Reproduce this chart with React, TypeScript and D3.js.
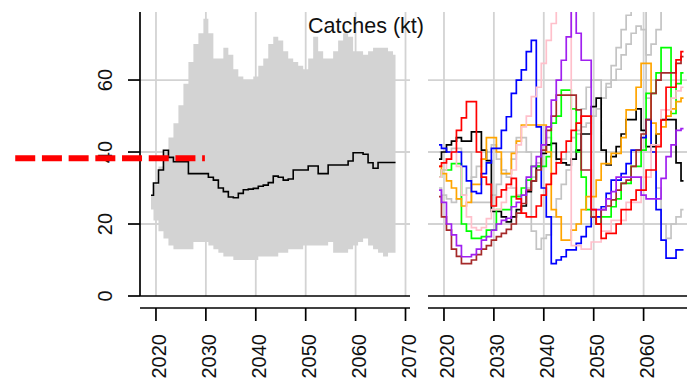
import * as React from 'react';
import {useEffect, useRef} from 'react';
import * as d3 from 'd3';

const years = d3.range(2019, 2069);
const xTicks = [2020, 2030, 2040, 2050, 2060, 2070];
const yTicks = [0, 20, 40, 60];
const gridY = [20, 40, 60];

// quantile band + median (left panel)
const catchUpper = [28, 31, 36, 40, 44, 48, 53, 59, 65, 70, 73, 77, 73, 66, 66, 69, 67, 63, 61, 60,
  60, 61, 64, 66, 70, 72, 71, 68, 66, 65, 64, 63, 66, 72, 68, 66, 66, 68, 71, 73,
  72, 68, 68, 67, 68, 69, 69, 69, 68, 67];
const catchLower = [24, 21, 18, 16, 14, 13, 13, 13, 13, 15, 15, 15, 14, 13, 12, 11, 11, 10, 10, 10,
  10, 10, 11, 11, 11, 11, 12, 12, 13, 13, 13, 14, 14, 14, 14, 14, 15, 12, 12, 12,
  13, 14, 15, 16, 14, 13, 12, 11, 12, 12];
const catchMedian = [28, 31.4, 35, 40.5, 38.5, 37.3, 37.3, 37.3, 34, 34, 34, 34, 33, 32.2, 30, 29, 27.5, 27.3, 28.5, 29.5,
  29.7, 29.9, 30.5, 30.8, 31.5, 33.3, 33, 32.2, 32.5, 35, 35, 35, 36.1, 36.1, 34, 34, 36.4, 36.4, 36.4, 36.4,
  37.5, 39.8, 39.8, 39.4, 37, 35.5, 37.1, 37.1, 37.1, 37.1];

// individual iterations (right panel)
const iterGrey1 = [40, 40, 40, 41, 41, 40, 40, 26, 26, 26, 26, 28, 31, 34, 34, 38, 44, 44, 40, 18,
  13, 16, 17, 22, 27, 31, 35, 40, 45, 52, 58, 60, 60, 55, 59, 64, 69, 74, 78, 82,
  83, 80, 55, 40, 30, 20, 16, 20, 22, 24];
const iterGrey2 = [30, 28, 27, 26, 27, 28, 30, 33, 36, 38, 40, 42, 38, 35, 33, 30, 28, 28, 30, 33,
  37, 42, 44, 40, 37, 38, 40, 44, 46, 47, 48, 50, 52, 55, 58, 60, 63, 67, 70, 73,
  75, 74, 67, 70, 74, 80, 84, 84, 82, 82];
const iterBlack = [38, 40, 42, 43, 44, 43, 43, 45.6, 45.6, 40.5, 37.6, 23.5, 23.5, 22, 20.6, 22, 24, 25, 29, 32,
  36, 39.6, 42, 42.4, 38, 37, 36.4, 38, 40.5, 45, 45, 52.6, 55, 40.5, 36.4, 38.7, 41.5, 45, 49, 49,
  52, 46, 41.5, 41.5, 45, 49, 49, 49, 37, 32];
const iterRed = [36, 37, 38, 40, 46, 49.5, 54, 54, 40, 33, 31, 25, 27.5, 29.5, 31, 32.7, 27, 23, 22, 22,
  25, 28, 31, 34, 37, 40, 43, 46, 48, 50, 50, 24, 20, 16, 17.4, 17.4, 20, 24, 24, 26.7,
  29.4, 29.4, 35, 35, 41.5, 48.9, 58, 58, 65.6, 67.9];
const iterGreen = [33, 35, 35, 36.8, 36.8, 20, 18, 16, 16, 16.5, 18.3, 18.3, 24, 24, 24, 27.6, 27.6, 30, 32.2, 36,
  36, 36, 38.7, 48, 50, 57.2, 57.2, 52, 40, 33, 24, 22, 20, 22, 22, 24.8, 27, 31.3, 31.3, 36,
  36, 40.5, 56.3, 56.3, 62, 69, 69, 50.7, 59, 62];
const iterBlue = [42, 41, 40, 40, 40, 36, 32, 29, 28.5, 34, 37, 41, 41, 46, 49.8, 56.3, 60, 62.8, 67.9, 71,
  47, 30, 22, 9, 10, 10.9, 12.8, 12.8, 14.6, 16.5, 19.3, 22, 22, 24.8, 28.5, 32.2, 32.2, 34, 36.8, 40.5,
  40.5, 44, 49, 40, 24, 15.5, 10.5, 10.5, 12.8, 12.8];
const iterOrange = [36, 34, 32, 30, 27, 25, 26, 31, 31, 38, 44, 44, 40, 34, 34, 39.6, 43, 47.5, 47.5, 47.5,
  47.5, 47.5, 40, 24, 22, 15.5, 15.5, 18.3, 20, 24, 27.6, 27.6, 32.2, 36.8, 36.8, 39.6, 39.6, 44, 51.7, 51.7,
  58, 64.6, 64.6, 48, 45, 47, 50, 52, 54, 55];
const iterPurple = [29.4, 26, 20, 17, 14, 10.9, 10.9, 11.5, 13, 15.5, 16.5, 18.3, 20, 21, 21.6, 24.8, 26, 28, 33, 36,
  38.7, 42, 47, 54.4, 60, 65.5, 72, 80, 73, 65.5, 65.5, 24, 24, 24, 27, 29, 33, 33, 33, 33,
  33, 28, 27, 27, 27, 32.7, 38.7, 42, 46, 46.5];
const iterBrown = [27.6, 22, 18.3, 13, 11, 9, 9, 10, 11.5, 13, 14, 15.5, 16.5, 17.4, 18.5, 20, 23, 25.7, 29.4, 32,
  35, 40.5, 46, 50, 55.8, 55.8, 55.8, 55.8, 51.7, 35, 35, 22, 20, 24, 25, 26.7, 29.4, 31.3, 32.2, 36,
  40.5, 45, 49, 56.3, 60, 62, 62, 62, 64.6, 66.5];
const iterPink = [33, 35, 38, 40, 36, 28, 22, 19, 18.3, 19, 21.5, 24, 24, 26, 30, 35, 42, 47, 50, 55.4,
  58, 64.6, 71, 75.7, 82, 85, 82, 14, 14, 13, 13, 15, 15, 18, 18, 21, 21, 21, 26, 26,
  26, 33, 33, 42, 42, 51.7, 51.7, 55, 57, 58];

const iterations = [iterGrey1, iterGrey2, iterBlack, iterGreen, iterOrange, iterBlue, iterPink, iterBrown, iterPurple, iterRed];
const iterColors = ['#c4c4c4', '#c4c4c4', '#000000', '#00ff00', '#ffa500', '#0000ff', '#ffc0cb', '#a52a2a', '#a020f0', '#ff0000'];

// reference catch level (red dashed)
const refLevel = 38.3;
const refFrom = 1991.8;
const refTo = 2029.8;

const title = 'Catches (kt)';

const width = 687;
const height = 381;
const font = '"Liberation Sans", Arial, sans-serif';

export default function App() {
  const ref = useRef<SVGSVGElement>(null);

  useEffect(() => {
    const svg = d3.select(ref.current);
    svg.selectAll('*').remove();

    const top = 12, bottom = 296, axisY = 308;
    const y = d3.scaleLinear().domain([0, 78.9]).range([bottom, top]);
    const xLeft = d3.scaleLinear().domain([2016.8, 2070.9]).range([140, 410]);
    const xRight = d3.scaleLinear().domain([2016.8, 2070.9]).range([428, 698]);

    svg.append('defs').append('clipPath').attr('id', 'clip-right')
      .append('rect')
      .attr('x', 428).attr('y', top).attr('width', 270).attr('height', bottom - top);

    const drawGrid = (g: any, x: any) => {
      g.selectAll('.vg').data(xTicks).join('line')
        .attr('x1', (d: number) => x(d)).attr('x2', (d: number) => x(d))
        .attr('y1', top).attr('y2', bottom)
        .attr('stroke', '#d3d3d3').attr('stroke-width', 1.8);
      g.selectAll('.hg').data(gridY).join('line')
        .attr('x1', x.range()[0]).attr('x2', x.range()[1])
        .attr('y1', (d: number) => y(d)).attr('y2', (d: number) => y(d))
        .attr('stroke', '#d3d3d3').attr('stroke-width', 1.8);
    };

    const drawXAxis = (g: any, x: any) => {
      g.append('line')
        .attr('x1', x.range()[0]).attr('x2', x.range()[1])
        .attr('y1', bottom).attr('y2', bottom)
        .attr('stroke', '#000').attr('stroke-width', 1.7);
      g.append('line')
        .attr('x1', x.range()[0]).attr('x2', x.range()[1])
        .attr('y1', axisY).attr('y2', axisY)
        .attr('stroke', '#000').attr('stroke-width', 1.7);
      g.selectAll('.xt').data(xTicks).join('line')
        .attr('x1', (d: number) => x(d)).attr('x2', (d: number) => x(d))
        .attr('y1', axisY).attr('y2', axisY + 13)
        .attr('stroke', '#000').attr('stroke-width', 1.7);
      g.selectAll('.xl').data(xTicks).join('text')
        .attr('transform', (d: number) => `translate(${x(d) + 10},${axisY + 26}) rotate(-90)`)
        .attr('text-anchor', 'end')
        .style('font-family', font).style('font-size', '20px')
        .attr('fill', '#111')
        .text((d: number) => d);
    };

    // left panel
    const left = svg.append('g');
    drawGrid(left, xLeft);

    const area = d3.area<number>()
      .x((d, i) => xLeft(years[i]))
      .y0((d, i) => y(catchLower[i]))
      .y1((d, i) => y(catchUpper[i]))
      .curve(d3.curveStep);
    left.append('path').datum(years).attr('d', area as any).attr('fill', '#d3d3d3');

    const medLine = d3.line<number>()
      .x((d, i) => xLeft(years[i]))
      .y(d => y(d))
      .curve(d3.curveStep);
    left.append('path').datum(catchMedian).attr('d', medLine as any)
      .attr('fill', 'none').attr('stroke', '#000').attr('stroke-width', 1.6);

    left.append('line')
      .attr('x1', 140).attr('x2', 140).attr('y1', top).attr('y2', bottom)
      .attr('stroke', '#000').attr('stroke-width', 1.7);
    left.selectAll('.yt').data(yTicks).join('line')
      .attr('x1', 128).attr('x2', 140)
      .attr('y1', d => y(d)).attr('y2', d => y(d))
      .attr('stroke', '#000').attr('stroke-width', 1.7);
    left.selectAll('.yl').data(yTicks).join('text')
      .attr('transform', d => `translate(112,${y(d)}) rotate(-90)`)
      .attr('text-anchor', 'middle')
      .style('font-family', font).style('font-size', '20px')
      .attr('fill', '#111')
      .text(d => d);
    drawXAxis(left, xLeft);

    // right panel
    const right = svg.append('g');
    drawGrid(right, xRight);
    const iterLine = d3.line<number>()
      .x((d, i) => xRight(years[i]))
      .y(d => y(d))
      .curve(d3.curveStep);
    right.append('g').attr('clip-path', 'url(#clip-right)')
      .selectAll('path').data(iterations).join('path')
      .attr('d', d => iterLine(d))
      .attr('fill', 'none')
      .attr('stroke', (d, i) => iterColors[i])
      .attr('stroke-width', 1.7);
    drawXAxis(right, xRight);

    // reference level
    svg.append('line')
      .attr('x1', xLeft(refFrom)).attr('x2', xLeft(refTo))
      .attr('y1', y(refLevel)).attr('y2', y(refLevel))
      .attr('stroke', '#ff0000').attr('stroke-width', 6)
      .attr('stroke-dasharray', '20,6.7');

    svg.append('text')
      .attr('x', 366).attr('y', 33)
      .attr('text-anchor', 'middle')
      .style('font-family', font).style('font-size', '21.5px')
      .attr('fill', '#111')
      .text(title);
  }, []);

  return (
    <svg ref={ref} width={width} height={height}
      style={{position: 'absolute', left: 0, top: 0, background: '#fff'}}/>
  );
}
